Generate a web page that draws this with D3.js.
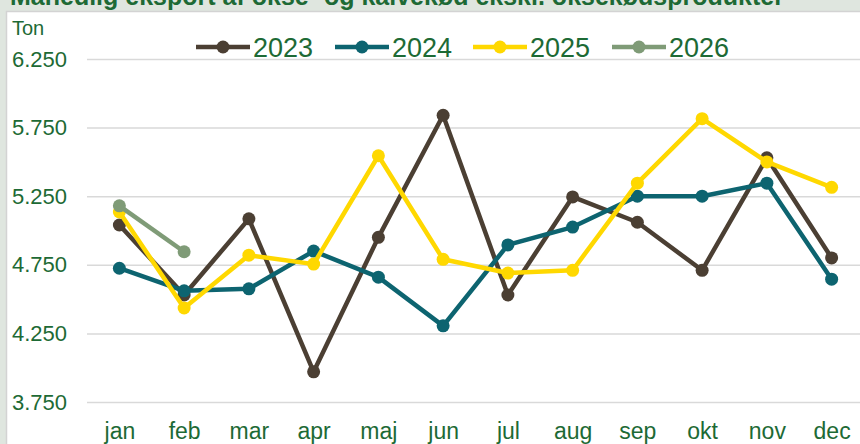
<!DOCTYPE html>
<html>
<head>
<meta charset="utf-8">
<script src="https://cdn.jsdelivr.net/npm/d3@7"></script>
<style>
  html, body { margin: 0; padding: 0; background: #dfe6df; }
  svg { display: block; }
</style>
</head>
<body>
<div id="chart"></div>
<script>
// --- data ---
const months = ["jan", "feb", "mar", "apr", "maj", "jun", "jul", "aug", "sep", "okt", "nov", "dec"];
const years = ["2023", "2024", "2025", "2026"];
const colors = ["#4b3f33", "#0d6470", "#ffd800", "#7f9b77"];
const v2023 = [5040, 4530, 5085, 3970, 4950, 5840, 4530, 5245, 5060, 4710, 5530, 4800];
const v2024 = [4725, 4560, 4575, 4850, 4660, 4305, 4895, 5025, 5250, 5250, 5345, 4645];
const v2025 = [5135, 4435, 4820, 4755, 5545, 4790, 4690, 4710, 5345, 5815, 5500, 5315];
const v2026 = [5180, 4845];
const yTicks = [3750, 4250, 4750, 5250, 5750, 6250];

const series = [v2023, v2024, v2025, v2026].map((vals, i) => ({
  year: years[i],
  color: colors[i],
  values: vals.map((v, j) => ({ month: months[j], value: v }))
}));

const width = 860, height = 444;
const green = "#1d6a35";

const svg = d3.select("#chart").append("svg")
  .attr("width", width)
  .attr("height", height);

// title, cut at the top like in the screenshot
svg.append("text")
  .attr("x", 10)
  .attr("y", 5)
  .attr("fill", green)
  .attr("font-family", "Liberation Sans, Arial, sans-serif")
  .attr("font-weight", "bold")
  .attr("font-size", 25)
  .text("Månedlig eksport af okse- og kalvekød ekskl. oksekødsprodukter");

// white panel
svg.append("rect")
  .attr("x", 6.5).attr("y", 11.5)
  .attr("width", width).attr("height", height)
  .attr("fill", "white")
  .attr("stroke", "#d3d3d3")
  .attr("stroke-width", 1.5);

const x = d3.scalePoint().domain(months).range([87, 864]).padding(0.5);
const y = d3.scaleLinear().domain([3750, 6250]).range([402, 59]);

const locale = d3.formatLocale({ decimal: ",", thousands: ".", grouping: [3], currency: ["", " kr"] });
const fmt = locale.format(",.0f");

// grid
svg.append("g")
  .attr("transform", "translate(87,0)")
  .call(d3.axisRight(y).tickValues(yTicks).tickSize(width - 87).tickFormat(""))
  .call(g => g.select(".domain").remove())
  .call(g => g.selectAll("line").attr("stroke", "#d9d9d9").attr("stroke-width", 1.5));

// y labels
svg.append("g")
  .attr("transform", "translate(67,0)")
  .call(d3.axisLeft(y).tickValues(yTicks).tickSize(0).tickPadding(0).tickFormat(fmt))
  .call(g => g.select(".domain").remove())
  .call(g => g.selectAll("text")
    .attr("fill", green)
    .attr("font-family", "Liberation Sans, Arial, sans-serif")
    .attr("font-size", 22));

svg.append("text")
  .attr("x", 12).attr("y", 35)
  .attr("fill", green)
  .attr("font-family", "Liberation Sans Narrow, Arial Narrow, sans-serif")
  .attr("font-size", 20)
  .text("Ton");

// x labels
svg.append("g")
  .attr("transform", "translate(0,418)")
  .call(d3.axisBottom(x).tickSize(0).tickPadding(0))
  .call(g => g.select(".domain").remove())
  .call(g => g.selectAll("text")
    .attr("fill", green)
    .attr("dy", "0.9em")
    .attr("font-family", "Liberation Sans Narrow, Arial Narrow, sans-serif")
    .attr("font-size", 23));

// lines
const line = d3.line().x(d => x(d.month)).y(d => y(d.value));

const sg = svg.append("g").selectAll("g")
  .data(series)
  .join("g");

sg.append("path")
  .attr("d", d => line(d.values))
  .attr("fill", "none")
  .attr("stroke", d => d.color)
  .attr("stroke-width", 4.5)
  .attr("stroke-linejoin", "round");

sg.selectAll("circle")
  .data(d => d.values.map(v => ({ ...v, color: d.color })))
  .join("circle")
  .attr("cx", d => x(d.month))
  .attr("cy", d => y(d.value))
  .attr("r", 6.5)
  .attr("fill", d => d.color);

// legend
const legendX = [196, 335, 473, 612];
const lg = svg.append("g").selectAll("g")
  .data(series)
  .join("g")
  .attr("transform", (d, i) => `translate(${legendX[i]},47)`);

lg.append("line")
  .attr("x1", 0).attr("x2", 54)
  .attr("stroke", d => d.color)
  .attr("stroke-width", 4.5);
lg.append("circle")
  .attr("cx", 27).attr("r", 6.5)
  .attr("fill", d => d.color);
lg.append("text")
  .attr("x", 57).attr("y", 0)
  .attr("dy", "0.36em")
  .attr("fill", green)
  .attr("font-family", "Liberation Sans Narrow, Arial Narrow, sans-serif")
  .attr("font-size", 27)
  .text(d => d.year);
</script>
</body>
</html>
